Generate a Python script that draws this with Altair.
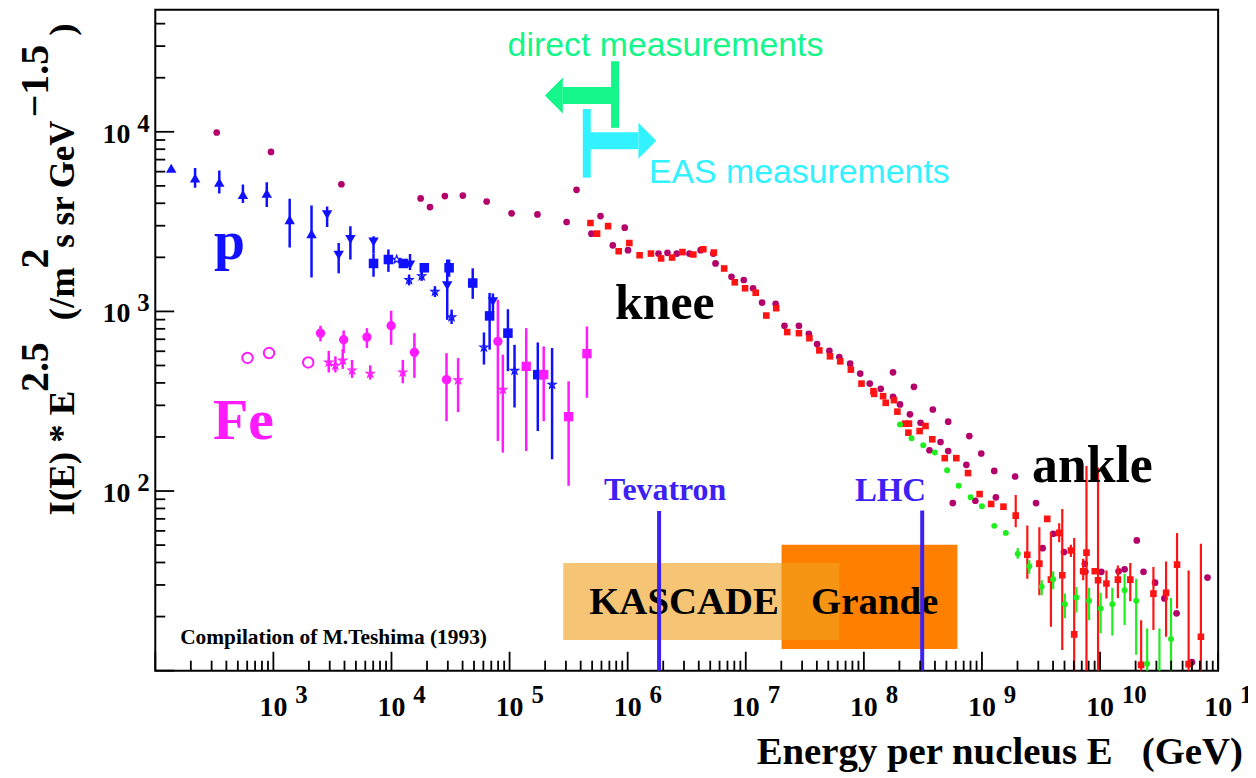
import altair as alt
import pandas as pd

# ------------------------------------------------------------------
# Data: [log10 E (GeV), log10 I*E^2.5, log10 err-low, log10 err-high]
# ------------------------------------------------------------------
p_tri_up = [
    [2.135, 3.797, 3.797, 3.797],
    [2.337, 3.743, 3.688, 3.798],
    [2.542, 3.719, 3.657, 3.784],
    [2.742, 3.651, 3.603, 3.706],
    [2.944, 3.658, 3.581, 3.719],
    [3.138, 3.511, 3.356, 3.627],
    [3.323, 3.433, 3.189, 3.590],
]
p_tri_down = [
    [3.455, 3.538, 3.470, 3.584],
    [3.553, 3.313, 3.212, 3.381],
    [3.652, 3.400, 3.289, 3.474],
    [3.848, 3.387, 3.322, 3.418],
    [4.157, 3.258, 3.230, 3.319],
    [4.472, 3.143, 2.953, 3.289],
    [4.859, 3.054, 2.990, 3.100],
]
p_square = [
    [3.848, 3.267, 3.193, 3.322],
    [3.974, 3.289, 3.220, 3.345],
    [4.101, 3.267, 3.250, 3.285],
    [4.278, 3.243, 3.223, 3.267],
    [4.488, 3.243, 3.193, 3.289],
    [4.688, 3.158, 3.070, 3.240],
    [4.831, 2.975, 2.787, 3.103],
    [4.986, 2.879, 2.667, 3.012],
    [5.239, 2.648, 2.334, 2.827],
]
p_star = [
    [4.044, 3.289, 3.289, 3.289],
    [4.149, 3.175, 3.145, 3.205],
    [4.256, 3.197, 3.170, 3.225],
    [4.368, 3.110, 3.080, 3.140],
    [4.509, 2.968, 2.930, 3.010],
    [4.783, 2.800, 2.704, 2.883],
    [5.042, 2.670, 2.465, 2.814],
    [5.360, 2.593, 2.177, 2.796],
]
fe_open_circle = [
    [2.781, 2.741, 2.741, 2.741],
    [2.963, 2.768, 2.768, 2.768],
    [3.295, 2.716, 2.716, 2.716],
]
fe_circle = [
    [3.399, 2.879, 2.833, 2.920],
    [3.595, 2.842, 2.768, 2.894],
    [3.792, 2.857, 2.796, 2.907],
    [3.997, 2.920, 2.814, 3.004],
    [4.194, 2.772, 2.630, 2.879],
    [4.466, 2.620, 2.389, 2.768],
    [4.901, 2.833, 2.279, 3.064],
]
fe_star = [
    [3.469, 2.716, 2.660, 2.780],
    [3.525, 2.698, 2.660, 2.750],
    [3.587, 2.727, 2.680, 2.790],
    [3.666, 2.672, 2.630, 2.730],
    [3.820, 2.654, 2.620, 2.700],
    [4.096, 2.661, 2.600, 2.730],
    [4.564, 2.617, 2.439, 2.740],
    [4.943, 2.565, 2.214, 2.759],
]
fe_square = [
    [5.141, 2.694, 2.223, 2.907],
    [5.289, 2.648, 2.389, 2.805],
    [5.500, 2.414, 2.029, 2.611],
    [5.655, 2.765, 2.519, 2.916],
]
all_particle = [
    [2.520, 3.996], [2.980, 3.888], [3.576, 3.708], [4.247, 3.629], [4.326, 3.581],
    [4.452, 3.642], [4.604, 3.645], [4.806, 3.612], [5.017, 3.546], [5.236, 3.540],
    [5.483, 3.498], [5.567, 3.677], [5.693, 3.433], [5.770, 3.531], [5.874, 3.368],
    [5.975, 3.466], [6.003, 3.341], [6.261, 3.322], [6.337, 3.326], [6.416, 3.322],
    [6.523, 3.322], [6.618, 3.341], [6.725, 3.322], [6.744, 3.267], [6.879, 3.193],
    [6.983, 3.175], [7.062, 3.129], [7.138, 3.049], [7.253, 3.042], [7.328, 2.920],
    [7.450, 2.920], [7.534, 2.875], [7.604, 2.818], [7.708, 2.781], [7.792, 2.746],
    [7.884, 2.709], [7.969, 2.654], [8.050, 2.598], [8.143, 2.569], [8.247, 2.661],
    [8.247, 2.525], [8.306, 2.482], [8.424, 2.580], [8.390, 2.427], [8.480, 2.380],
    [8.584, 2.454], [8.714, 2.386], [8.649, 2.273], [8.714, 2.223], [8.556, 2.227],
    [8.868, 2.146], [8.893, 2.306], [8.994, 2.209], [9.104, 2.112], [9.118, 1.965],
    [9.281, 2.081], [8.944, 1.946], [8.753, 1.933], [9.458, 1.933], [9.603, 1.762],
    [9.514, 1.682], [9.694, 1.660], [9.871, 1.595], [9.876, 1.550], [10.011, 1.550],
    [10.157, 1.553], [10.208, 1.564], [10.311, 1.725], [10.368, 1.550], [10.466, 1.490],
    [10.545, 1.402], [10.648, 1.319], [10.778, 1.047], [10.910, 1.518],
]
eas_red = [
    [5.685, 3.492], [5.741, 3.433], [5.834, 3.475], [5.924, 3.335], [6.014, 3.381],
    [6.101, 3.313], [6.197, 3.322], [6.283, 3.295], [6.376, 3.300], [6.464, 3.330],
    [6.556, 3.317], [6.641, 3.346], [6.730, 3.328], [6.817, 3.239], [6.907, 3.162],
    [6.994, 3.129], [7.084, 3.104], [7.174, 2.977], [7.258, 3.018], [7.351, 2.885],
    [7.450, 2.879], [7.539, 2.851], [7.623, 2.783], [7.713, 2.750], [7.800, 2.722],
    [7.890, 2.676], [7.980, 2.598], [8.081, 2.556], [8.087, 2.541], [8.163, 2.528],
    [8.185, 2.491], [8.255, 2.506], [8.284, 2.442], [8.348, 2.375], [8.382, 2.375],
    [8.377, 2.325], [8.472, 2.334], [8.522, 2.362], [8.579, 2.288], [8.685, 2.183],
    [8.783, 2.183], [8.882, 2.100], [8.980, 1.983], [9.078, 1.928], [9.182, 1.913],
    [9.286, 1.863, 1.799, 1.978], [9.384, 1.645, 1.512, 1.808],
    [9.486, 1.596, 1.420, 1.799], [9.553, 1.845],
    [9.584, 1.507, 1.245, 1.771], [9.654, 1.767, 1.715, 1.820],
    [9.680, 1.531, 1.115, 1.900], [9.753, 1.669, 1.633, 1.701],
    [9.781, 1.202, 0.900, 1.738], [9.857, 1.553, 1.503, 1.623],
    [9.885, 1.657, 0.900, 2.140], [9.955, 1.553],
    [9.983, 1.503, 0.900, 2.131], [10.054, 1.485, 1.402, 1.558],
    [10.151, 1.507, 1.405, 1.586], [10.256, 1.507, 1.387, 1.599],
    [10.348, 1.032, 0.900, 1.281], [10.452, 1.429, 1.226, 1.577],
    [10.559, 1.433, 1.189, 1.608], [10.652, 1.590, 1.346, 1.766],
    [10.750, 1.036, 0.900, 1.558], [10.854, 1.189, 0.900, 1.706],
]
eas_green = [
    [8.306, 2.371], [8.404, 2.294], [8.503, 2.255], [8.601, 2.214], [8.705, 2.116],
    [8.803, 2.029], [8.904, 1.965], [9.000, 1.915], [9.104, 1.806], [9.202, 1.767],
    [9.303, 1.651, 1.623, 1.683], [9.401, 1.581, 1.540, 1.614],
    [9.506, 1.467, 1.420, 1.503], [9.603, 1.509, 1.453, 1.553],
    [9.702, 1.370, 1.291, 1.429], [9.800, 1.407, 1.324, 1.466],
    [9.907, 1.389, 1.281, 1.461], [10.005, 1.346, 1.208, 1.433],
    [10.104, 1.370, 1.195, 1.461], [10.208, 1.448, 1.254, 1.540],
    [10.306, 1.389, 1.088, 1.512], [10.399, 1.038, 0.900, 1.235],
    [10.503, 0.950, 0.900, 1.235], [10.601, 1.176, 0.900, 1.405],
]

# experiments (boxes) and accelerators (lines)
exp_names = ["Grande", "KASCADE"]
exp_logE_lo = [7.303, 5.455]
exp_logE_hi = [8.792, 7.792]
exp_logI_lo = [1.121, 1.170]
exp_logI_hi = [1.701, 1.599]

acc_names = ["Tevatron", "LHC"]
acc_logE = [6.266, 8.494]
acc_logI_top = [1.889, 1.891]

# direct / EAS arrows
arrow_names = ["direct measurements", "EAS measurements"]
arrow_bar_logE = [5.893, 5.654]
arrow_bar_top = [4.393, 4.127]
arrow_bar_bottom = [4.022, 3.745]
arrow_shaft_logI = [4.202, 3.950]
arrow_head_logE = [5.451, 6.091]

x_label_exps = ["3", "4", "5", "6", "7", "8", "9", "10", "11"]
y_label_exps = ["2", "3", "4"]

# ------------------------------------------------------------------
W, H = 1068, 664
XS = alt.Scale(type="log", domain=[1e2, 1e11])
YS = alt.Scale(type="log", domain=[10, 10 ** 4.679])
SERIF = "Liberation Serif"
SANS = "Liberation Sans"
NB = "\u00a0"

BLUE = "#1010FF"
MAG = "#FF1AFF"
MAROON = "#B3006B"
RED = "#FF1414"
GREEN = "#1EEE1E"
ACC = "#3C21F2"
STAR = ("M0,-1L0.235,-0.324L0.951,-0.309L0.380,0.124L0.588,0.809L0,0.4"
        "L-0.588,0.809L-0.380,0.124L-0.951,-0.309L-0.235,-0.324Z")


def frame(rows):
    full = [r if len(r) == 4 else [r[0], r[1], r[1], r[1]] for r in rows]
    df = pd.DataFrame(full, columns=["lE", "lI", "lo", "hi"])
    df["E"] = 10 ** df["lE"]
    df["I"] = 10 ** df["lI"]
    df["L"] = 10 ** df["lo"]
    df["U"] = 10 ** df["hi"]
    return df


def X(f="E"):
    return alt.X(f"{f}:Q", scale=XS, axis=None)


def Y(f="I"):
    return alt.Y(f"{f}:Q", scale=YS, axis=None)


def series(rows, shape, size, color, filled=True, sw=1.0, esw=2.5):
    df = frame(rows)
    err = alt.Chart(df).mark_rule(color=color, strokeWidth=esw, clip=True).encode(
        x=X(), y=Y("L"), y2="U:Q")
    pts = alt.Chart(df).mark_point(shape=shape, size=size, filled=filled, color=color,
                                   opacity=1, strokeWidth=sw, clip=True).encode(x=X(), y=Y())
    return [err, pts]


def label(text, x, y, size, color="black", font=SERIF, weight="bold", angle=0, align="left"):
    return alt.Chart(pd.DataFrame({"t": [text]})).mark_text(
        font=font, fontWeight=weight, fontSize=size, color=color, align=align,
        baseline="alphabetic", angle=angle).encode(x=alt.value(x), y=alt.value(y), text="t:N")


layers = []

# boxes
boxes = pd.DataFrame({
    "name": exp_names,
    "E1": [10 ** v for v in exp_logE_lo], "E2": [10 ** v for v in exp_logE_hi],
    "I1": [10 ** v for v in exp_logI_lo], "I2": [10 ** v for v in exp_logI_hi],
})
layers.append(alt.Chart(boxes).transform_filter("datum.name == 'Grande'").mark_rect(
    color="#FF8000", opacity=1).encode(x=X("E1"), x2="E2:Q", y=Y("I1"), y2="I2:Q"))
layers.append(alt.Chart(boxes).transform_filter("datum.name == 'KASCADE'").mark_rect(
    color="#F0A020", opacity=0.62).encode(x=X("E1"), x2="E2:Q", y=Y("I1"), y2="I2:Q"))

# data series
layers += series(all_particle, "circle", 45, MAROON, esw=2)
layers += series(eas_red, "square", 44, RED, esw=2.2)
layers += series(eas_green, "circle", 36, GREEN, esw=2.2)
layers += series(p_tri_up, "triangle-up", 110, BLUE)
layers += series(p_tri_down, "triangle-down", 110, BLUE)
layers += series(p_square, "square", 92, BLUE)
layers += series(p_star, STAR, 72, BLUE, filled=False, sw=1.2)
layers += series(fe_open_circle, "circle", 110, MAG, filled=False, sw=2)
layers += series(fe_circle, "circle", 88, MAG)
layers += series(fe_star, STAR, 72, MAG, filled=False, sw=1.2)
layers += series(fe_square, "square", 88, MAG)

# arrows
arrow_colors = ["#14F58A", "#33F2FF"]
head_paths = ["M0,-1L-1,0L0,1Z", "M0,-1L1,0L0,1Z"]
for i in range(2):
    a = pd.DataFrame({"Eb": [10 ** arrow_bar_logE[i]], "It": [10 ** arrow_bar_top[i]],
                      "Ib": [10 ** arrow_bar_bottom[i]], "Is": [10 ** arrow_shaft_logI[i]],
                      "Eh": [10 ** arrow_head_logE[i]]})
    c = arrow_colors[i]
    layers.append(alt.Chart(a).mark_rule(color=c, strokeWidth=17).encode(
        x=X("Eb"), x2="Eh:Q", y=Y("Is")))
    layers.append(alt.Chart(a).mark_rule(color=c, strokeWidth=8).encode(
        x=X("Eb"), y=Y("It"), y2="Ib:Q"))
    layers.append(alt.Chart(a).mark_point(shape=head_paths[i], size=1296, filled=True,
                                          color=c, opacity=1, strokeWidth=0).encode(
        x=X("Eh"), y=Y("Is")))

# texts inside the plot
layers += [
    label("direct measurements", 354, 46, 34, "#14F58A", SANS, "normal"),
    label("EAS measurements", 496, 174, 34, "#33F2FF", SANS, "normal"),
    label("p", 59, 250, 56, BLUE),
    label("Fe", 58, 431, 58, MAG),
    label("knee", 462, 311, 50),
    label("ankle", 881, 474, 52),
    label("Tevatron", 451, 493, 32, ACC),
    label("LHC", 703, 494, 33, ACC),
    label("KASCADE", 436, 607, 39),
    label("Grande", 659, 607, 39),
    label("Compilation of M.Teshima (1993)", 25, 637, 21.5),
]

# accelerator lines
acc = pd.DataFrame({"name": acc_names, "E": [10 ** v for v in acc_logE],
                    "It": [10 ** v for v in acc_logI_top], "Ib": [10.0, 10.0]})
layers.append(alt.Chart(acc).mark_rule(color=ACC, strokeWidth=4).encode(
    x=X(), y=Y("It"), y2="Ib:Q"))

# inward ticks
xt = pd.DataFrame([{"v": m * 10.0 ** d, "major": m == 1} for d in range(2, 11) for m in range(1, 10)]
                  + [{"v": 1e11, "major": True}])
yt = pd.DataFrame([{"v": m * 10.0 ** d, "major": m == 1} for d in range(1, 5) for m in range(1, 10)
                   if m * 10.0 ** d <= 10 ** 4.679])
for major, ln in [(True, 19), (False, 10)]:
    f = "datum.major" if major else "!datum.major"
    layers.append(alt.Chart(xt).transform_filter(f).mark_rule(color="black", strokeWidth=1.8).encode(
        x=X("v"), y=alt.value(H), y2=alt.value(H - ln)))
    layers.append(alt.Chart(yt).transform_filter(f).mark_rule(color="black", strokeWidth=1.8).encode(
        y=Y("v"), x=alt.value(0), x2=alt.value(ln)))

# tick labels
xl = pd.DataFrame({"v": [10.0 ** int(e) for e in x_label_exps], "e": x_label_exps})
yl = pd.DataFrame({"v": [10.0 ** int(e) for e in y_label_exps], "e": y_label_exps})
tk = dict(font=SERIF, fontWeight="bold", fontSize=28, color="black", baseline="alphabetic")
tke = dict(font=SERIF, fontWeight="bold", fontSize=25, color="black", baseline="alphabetic")
layers.append(alt.Chart(xl).mark_text(align="center", **tk).encode(
    x=X("v"), y=alt.value(710), text=alt.value("10")))
layers.append(alt.Chart(xl).mark_text(align="left", dx=22, **tke).encode(
    x=X("v"), y=alt.value(697), text="e:N"))
layers.append(alt.Chart(yl).mark_text(align="center", dy=11, **tk).encode(
    y=Y("v"), x=alt.value(-39), text=alt.value("10")))
layers.append(alt.Chart(yl).mark_text(align="left", dy=0, **tke).encode(
    y=Y("v"), x=alt.value(-18), text="e:N"))

# axis titles
layers.append(label(f"Energy per nucleus E{NB}{NB}{NB}(GeV)", 1093, 758, 39, align="right"))
layers += [
    label("I(E) * E", -82, 508, 37, angle=270),
    label("2.5", -108, 384, 40, angle=270),
    label("(/m", -82, 312, 37, angle=270),
    label("2", -108, 260, 40, angle=270),
    label(f"s sr GeV", -82, 239, 35, angle=270),
    label("\u22121.5", -108, 108, 40, angle=270),
    label(")", -82, 26, 37, angle=270),
]

chart = alt.layer(*layers).properties(
    width=W, height=H,
    padding={"left": 148, "top": 0, "right": 30, "bottom": 100},
    autosize=alt.AutoSizeParams(type="none"),
).configure_view(stroke="black", strokeWidth=2)

chart.save("out.html", embed_options={"renderer": "svg", "actions": False})
